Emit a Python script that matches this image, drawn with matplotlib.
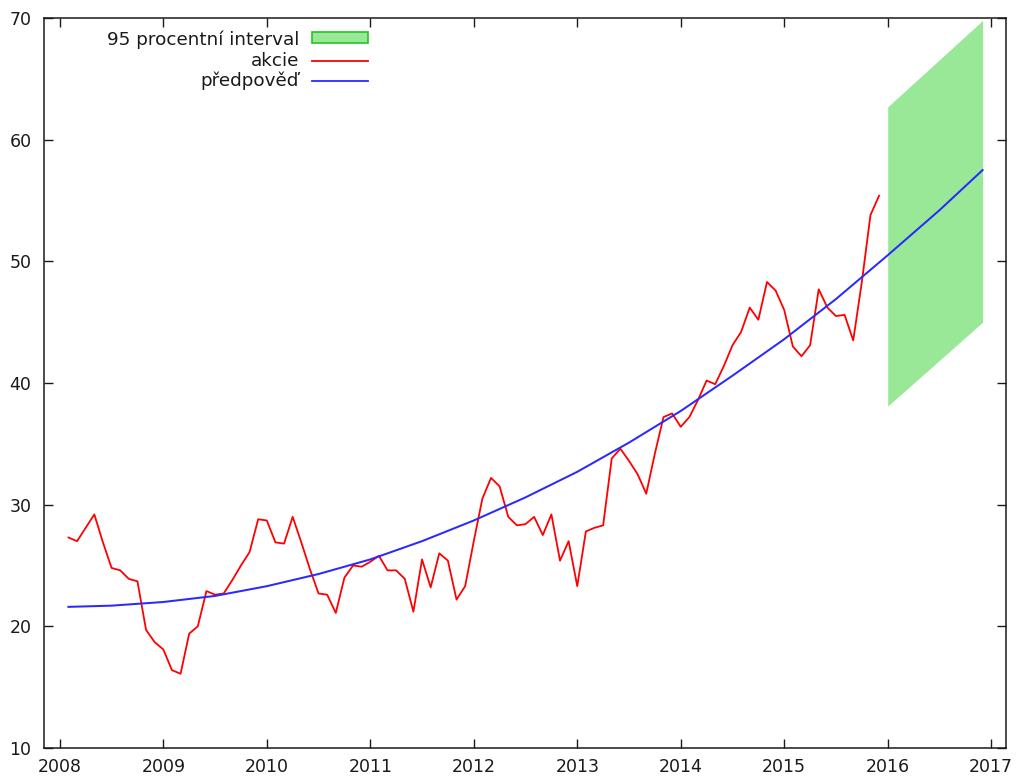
## Akcie - mesicni kurz a kvadraticka predpoved s 95% intervalem ##
import numpy as np
import matplotlib
matplotlib.use('Agg')
import matplotlib.pyplot as plt
from matplotlib.patches import Rectangle
from matplotlib.lines import Line2D

# mesicni hodnoty akcie, unor 2008 - prosinec 2015
akcie = [27.3, 27.0, 28.1, 29.2, 26.9, 24.8, 24.6, 23.9, 23.7, 19.7, 18.7,
         18.1, 16.4, 16.1, 19.4, 20.0, 22.9, 22.6, 22.7, 23.8, 25.0, 26.1, 28.8,
         28.7, 26.9, 26.8, 29.0, 26.9, 24.7, 22.7, 22.6, 21.1, 24.0, 25.0, 24.9,
         25.3, 25.8, 24.6, 24.6, 23.9, 21.2, 25.5, 23.2, 26.0, 25.4, 22.2, 23.3,
         27.0, 30.5, 32.2, 31.5, 29.0, 28.3, 28.4, 29.0, 27.5, 29.2, 25.4, 27.0,
         23.3, 27.8, 28.1, 28.3, 33.8, 34.6, 33.6, 32.5, 30.9, 34.2, 37.2, 37.5,
         36.4, 37.2, 38.6, 40.2, 39.9, 41.4, 43.1, 44.2, 46.2, 45.2, 48.3, 47.6,
         46.0, 43.0, 42.2, 43.1, 47.7, 46.2, 45.5, 45.6, 43.5, 48.3, 53.8, 55.4]
t_akcie = 2008 + np.arange(1, len(akcie) + 1) / 12.0

# predpoved (trend)
t_pred = [2008.083, 2008.5, 2009.0, 2009.5, 2010.0, 2010.5, 2011.0, 2011.5,
          2012.0, 2012.5, 2013.0, 2013.5, 2014.0, 2014.5, 2015.0, 2015.5,
          2016.0, 2016.5, 2016.917]
predpoved = [21.6, 21.7, 22.0, 22.5, 23.3, 24.3, 25.5, 27.0, 28.7, 30.6, 32.7,
             35.1, 37.7, 40.6, 43.6, 46.9, 50.5, 54.2, 57.5]

# 95 procentni interval pro rok 2016
t_int = [2016.0, 2016.917]
int_horni = [62.7, 69.8]
int_dolni = [38.1, 45.0]

roky = list(range(2008, 2018))
y_ticks = list(range(10, 71, 10))

W, H = 1019, 778
fig = plt.figure(figsize=(W / 100, H / 100), dpi=100)
ax = fig.add_axes([44 / W, 30 / H, 962 / W, 730 / H])

ax.fill_between(t_int, int_dolni, int_horni, color='#98e898', lw=0)
ax.plot(t_akcie, akcie, color='#ff0000', lw=1.3)
ax.plot(t_pred, predpoved, color='#2a2aff', lw=1.45)

ax.set_xlim(2007.847, 2017.143)
ax.set_ylim(10, 70)
ax.set_xticks(roky)
ax.set_yticks(y_ticks)
ax.tick_params(direction='in', length=6.5, width=1, top=True, right=True,
               labelsize=12.5, colors='#1a1a1a')
ax.tick_params(axis='x', pad=7.5)
ax.tick_params(axis='y', pad=9)
for s in ax.spines.values():
    s.set_linewidth(1.1)
    s.set_color('#1a1a1a')


# legenda ve stylu gnuplotu: text zarovnany doprava, vzorek vpravo
def px(x, y):
    return (x / W, 1 - y / H)

popisky = ['95 procentní interval', 'akcie', 'předpověď']
radky = [39.5, 60.7, 81]
for txt, yy in zip(popisky, radky):
    fig.text(*px(299, yy), txt, ha='right', va='center', fontsize=13.2,
             color='#1a1a1a')

x0, y0 = px(312, 43.3)
x1, y1 = px(368, 31.7)
fig.add_artist(Rectangle((x0, y0), x1 - x0, y1 - y0, transform=fig.transFigure,
                         facecolor='#98e898', edgecolor='#1ec81e', lw=1.2))
for yy, c in zip(radky[1:], ['#ff0000', '#2a2aff']):
    a, b = px(312, yy)
    e, _ = px(368, yy)
    fig.add_artist(Line2D([a, e], [b, b], transform=fig.transFigure,
                          color=c, lw=1.3))

fig.savefig('out.png', dpi=100)
